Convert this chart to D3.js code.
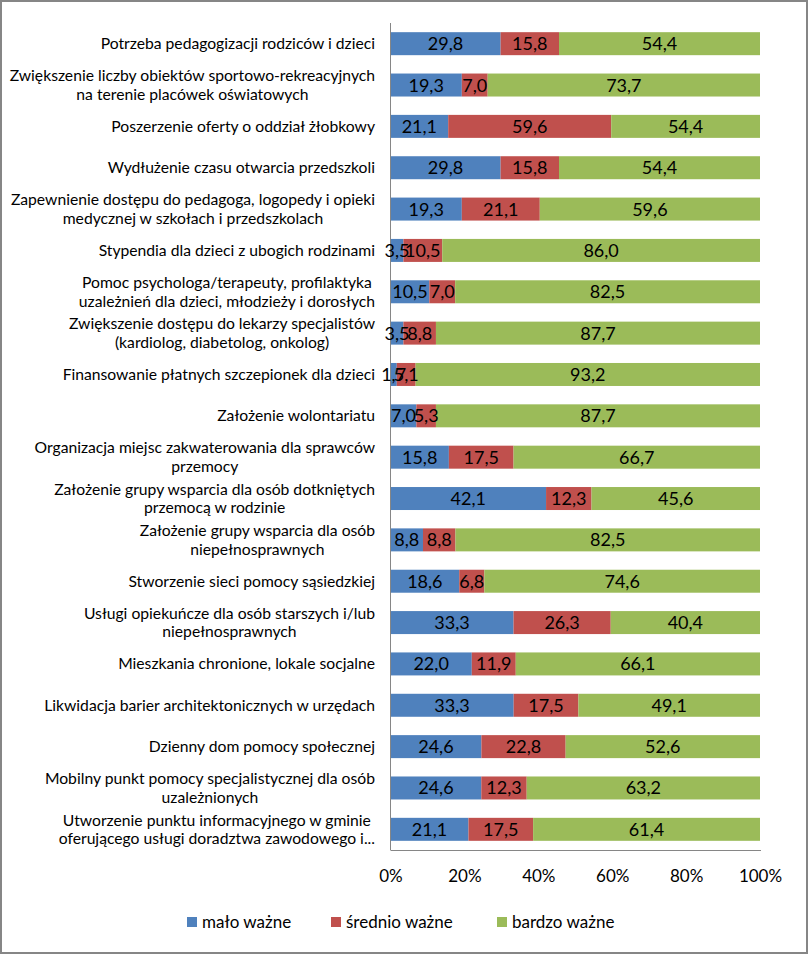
<!DOCTYPE html>
<html>
<head>
<meta charset="utf-8">
<script src="https://cdn.jsdelivr.net/npm/d3@7"></script>
<style>
  html, body { margin: 0; padding: 0; background: #fff; }
  svg { display: block; }
  text { font-family: Lato, "Open Sans", sans-serif; }
</style>
</head>
<body>
<svg id="chart" width="808" height="954"></svg>
<script>
const categories = [
  "Potrzeba pedagogizacji rodziców i dzieci",
  "Zwiększenie liczby obiektów sportowo-rekreacyjnych\nna terenie placówek oświatowych",
  "Poszerzenie oferty o oddział żłobkowy",
  "Wydłużenie czasu otwarcia przedszkoli",
  "Zapewnienie dostępu do pedagoga, logopedy i opieki\nmedycznej w szkołach i przedszkolach",
  "Stypendia dla dzieci z ubogich rodzinami",
  "Pomoc psychologa/terapeuty, profilaktyka\nuzależnień dla dzieci, młodzieży i dorosłych",
  "Zwiększenie dostępu do lekarzy specjalistów\n(kardiolog, diabetolog, onkolog)",
  "Finansowanie płatnych szczepionek dla dzieci",
  "Założenie wolontariatu",
  "Organizacja miejsc zakwaterowania dla sprawców\nprzemocy",
  "Założenie grupy wsparcia dla osób dotkniętych\nprzemocą w rodzinie",
  "Założenie grupy wsparcia dla osób\nniepełnosprawnych",
  "Stworzenie sieci pomocy sąsiedzkiej",
  "Usługi opiekuńcze dla osób starszych i/lub\nniepełnosprawnych",
  "Mieszkania chronione, lokale socjalne",
  "Likwidacja barier architektonicznych w urzędach",
  "Dzienny dom pomocy społecznej",
  "Mobilny punkt pomocy specjalistycznej dla osób\nuzależnionych",
  "Utworzenie punktu informacyjnego w gminie\noferującego usługi doradztwa zawodowego i..."
];
const seriesNames = ["mało ważne", "średnio ważne", "bardzo ważne"];
const maloWazne    = [29.8, 19.3, 21.1, 29.8, 19.3, 3.5, 10.5, 3.5, 1.7, 7.0, 15.8, 42.1, 8.8, 18.6, 33.3, 22.0, 33.3, 24.6, 24.6, 21.1];
const srednioWazne = [15.8, 7.0, 59.6, 15.8, 21.1, 10.5, 7.0, 8.8, 5.1, 5.3, 17.5, 12.3, 8.8, 6.8, 26.3, 11.9, 17.5, 22.8, 12.3, 17.5];
const bardzoWazne  = [54.4, 73.7, 54.4, 54.4, 59.6, 86.0, 82.5, 87.7, 93.2, 87.7, 66.7, 45.6, 82.5, 74.6, 40.4, 66.1, 49.1, 52.6, 63.2, 61.4];
const xTicks = [0, 20, 40, 60, 80, 100];
const colors = ["#4F81BD", "#C0504D", "#9BBB59"];

const svg = d3.select("#chart");
const W = 808, H = 954;

// outer frame
svg.append("rect").attr("x", 1).attr("y", 1).attr("width", W - 2).attr("height", H - 2)
  .attr("fill", "#fff").attr("stroke", "#868686").attr("stroke-width", 2);

const x = d3.scaleLinear().domain([0, 100]).range([390.5, 760]);
const y = d3.scaleBand().domain(d3.range(categories.length)).range([23, 850])
  .paddingInner(0.444).paddingOuter(0.222);

// 100% stacked: each row normalised by its total
const seriesVals = [maloWazne, srednioWazne, bardzoWazne];
const rows = categories.map((c, i) => {
  const total = d3.sum(seriesVals, vals => vals[i]);
  let acc = 0;
  return seriesVals.map((vals, s) => {
    const v = vals[i];
    const p = v / total * 100;
    const seg = { i, s, v, x0: acc, x1: acc + p };
    acc += p;
    return seg;
  });
});
const segs = rows.flat();

svg.append("g")
  .selectAll("rect").data(segs).join("rect")
  .attr("x", d => x(d.x0))
  .attr("y", d => y(d.i))
  .attr("width", d => Math.max(0, x(d.x1) - x(d.x0)))
  .attr("height", y.bandwidth())
  .attr("fill", d => colors[d.s]);

// axes lines
svg.append("line").attr("x1", x(0)).attr("x2", x(0)).attr("y1", 23).attr("y2", 850)
  .attr("stroke", "#868686").attr("stroke-width", 1);
svg.append("line").attr("x1", x(0)).attr("x2", x(100) + 1).attr("y1", 850.5).attr("y2", 850.5)
  .attr("stroke", "#868686").attr("stroke-width", 1);

// value labels
svg.append("g").selectAll("text").data(segs).join("text")
  .attr("x", d => (x(d.x0) + x(d.x1)) / 2)
  .attr("y", d => y(d.i) + y.bandwidth() / 2)
  .attr("dy", "0.36em")
  .attr("text-anchor", "middle")
  .attr("font-size", 18)
  .attr("fill", "#000")
  .text(d => d3.format(".1f")(d.v).replace(".", ","));

// category labels
const labelRight = 375;
const lineH = 18.5;
const catG = svg.append("g");
categories.forEach((c, i) => {
  const lines = c.split("\n");
  const t = catG.append("text")
    .attr("font-size", 15.7)
    .attr("fill", "#000")
    .attr("text-anchor", "middle");
  const cy = y(i) + y.bandwidth() / 2;
  lines.forEach((ln, k) => {
    t.append("tspan")
      .attr("y", cy + (k - (lines.length - 1) / 2) * lineH)
      .attr("dy", "0.35em")
      .text(ln);
  });
  const widths = t.selectAll("tspan").nodes().map(n => n.getComputedTextLength());
  const maxW = d3.max(widths);
  t.selectAll("tspan").attr("x", labelRight - maxW / 2);
});

// x axis tick labels
const xAxis = d3.axisBottom(x).tickValues(xTicks).tickSize(0).tickPadding(0)
  .tickFormat(d => d + "%");
const gx = svg.append("g").attr("transform", "translate(0,870)").call(xAxis);
gx.select(".domain").remove();
gx.selectAll("text").attr("font-size", 17).attr("fill", "#000")
  .attr("font-family", "Lato, 'Open Sans', sans-serif")
  .attr("dy", "0.72em");

// legend
const legendX = [187, 331, 497];
const lg = svg.append("g");
seriesNames.forEach((n, s) => {
  lg.append("rect").attr("x", legendX[s]).attr("y", 917).attr("width", 10).attr("height", 10)
    .attr("fill", colors[s]);
  lg.append("text").attr("x", legendX[s] + 15).attr("y", 922).attr("dy", "0.35em")
    .attr("font-size", 17).attr("fill", "#000").text(n);
});
</script>
</body>
</html>
